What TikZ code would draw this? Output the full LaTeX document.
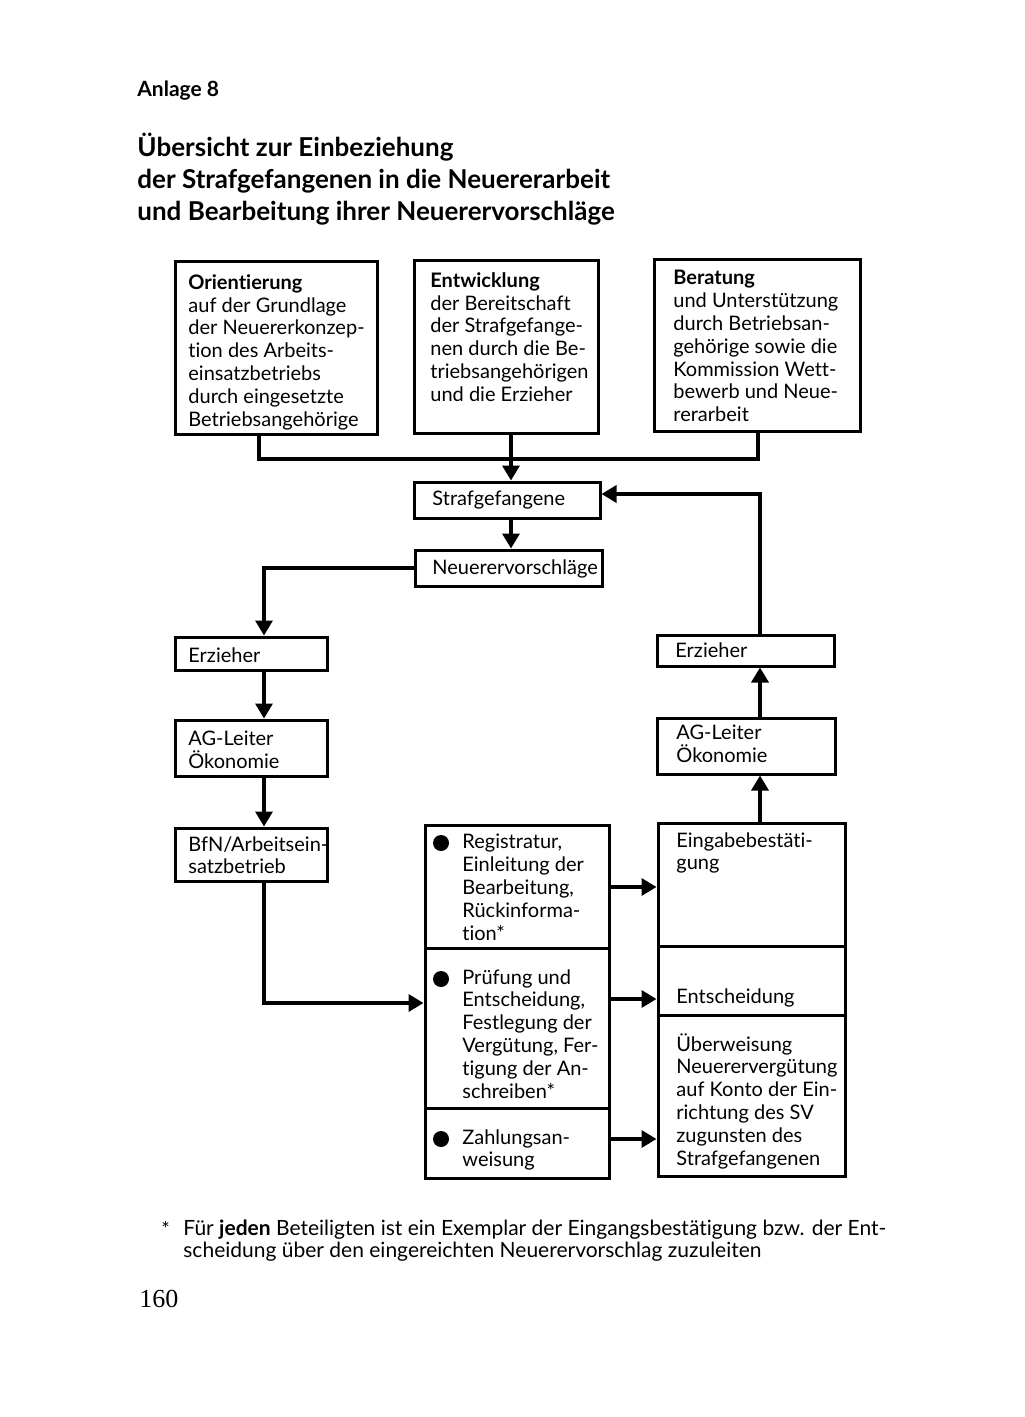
\documentclass[tikz,border=0pt]{standalone}
\usepackage{fontspec}
\setmainfont{Lato}[Ligatures={NoCommon,NoContextual}]
\newfontfamily\pagenumfont{Liberation Serif}
\usetikzlibrary{arrows.meta,calc}
\newcommand\bx[5]{\node[box, minimum width={(#4-#2)*0.5pt}, minimum height={(#5-#3)*0.5pt}] (#1) at ({(#2+#4)/2},{(#3+#5)/2}) {};}
\begin{document}
\begin{tikzpicture}[x=0.5pt,y=-0.5pt,
 box/.style={draw, line width=1.5pt, inner sep=0pt},
 conn/.style={line width=1.7pt},
 arr/.style={conn,-{Triangle[length=7.5pt,width=8.5pt]}},
 txt/.style={anchor=north west, inner sep=0pt, align=left, font=\fontsize{10}{11.4}\selectfont},
 lbl/.style={anchor=west, inner sep=0pt, font=\fontsize{10}{11.4}\selectfont},
 bul/.style={circle, fill, inner sep=0pt, minimum size=8pt}]
\useasboundingbox (0,0) rectangle (1024,1417);
% title
\node[anchor=north west, inner sep=0pt, font=\bfseries\fontsize{10.5}{12}\selectfont] (anl) at (137,81) {Anlage 8};
\node[anchor=north west, inner sep=0pt, align=left, font=\bfseries\fontsize{13}{16}\selectfont] (title) at (137,133)
 {Übersicht zur Einbeziehung\\der Strafgefangenen in die Neuererarbeit\\und Bearbeitung ihrer Neuerervorschläge};
% top boxes
\bx{b1}{175}{262}{377}{434}
\bx{b2}{414}{261}{598}{433}
\bx{b3}{654}{260}{860}{431}
\node[txt] (t1) at (188,274) {\textbf{Orientierung}\\auf der Grundlage\\der Neuererkonzep-\\tion des Arbeits-\\einsatzbetriebs\\durch eingesetzte\\Betriebsangehörige};
\node[txt] (t2) at (430,272) {\textbf{Entwicklung}\\der Bereitschaft\\der Strafgefange-\\nen durch die Be-\\triebsangehörigen\\und die Erzieher};
\node[txt] (t3) at (673,270) {\textbf{Beratung}\\und Unterstützung\\durch Betriebsan-\\gehörige sowie die\\Kommission Wett-\\bewerb und Neue-\\rerarbeit};
% center column
\bx{sg}{414}{482}{600}{518}
\node[lbl] (sgt) at (432,500) {Strafgefangene};
\bx{nv}{415}{550}{602}{586}
\node[lbl] (nvt) at (432,569) {Neuerervorschläge};
% left column
\bx{le}{175}{637}{327}{670}
\node[lbl] (let) at (188,655) {Erzieher};
\bx{la}{175}{720}{327}{776}
\node[txt] (lat) at (188,731) {AG-Leiter\\Ökonomie};
\bx{lb}{175}{828}{327}{881}
\node[txt] (lbt) at (188,836) {BfN/Arbeitsein-\\satzbetrieb};
% right column
\bx{re}{657}{635}{834}{666}
\node[lbl] (ret) at (675,650) {Erzieher};
\bx{ra}{657}{718}{835}{774}
\node[txt] (rat) at (676,725) {AG-Leiter\\Ökonomie};
% middle stacked box
\bx{m1}{425}{825}{609}{948}
\bx{m2}{425}{948}{609}{1108}
\bx{m3}{425}{1108}{609}{1178}
\node[bul] (p1) at (441,843) {};
\node[bul] (p2) at (441,979) {};
\node[bul] (p3) at (441,1139) {};
\node[txt] (m1t) at (462,834) {Registratur,\\Einleitung der\\Bearbeitung,\\Rückinforma-\\tion*};
\node[txt] (m2t) at (462,969) {Prüfung und\\Entscheidung,\\Festlegung der\\Vergütung, Fer-\\tigung der An-\\schreiben*};
\node[txt] (m3t) at (462,1129) {Zahlungsan-\\weisung};
% right stacked box
\bx{r1}{658}{823}{845}{946}
\bx{r2}{658}{946}{845}{1015}
\bx{r3}{658}{1015}{845}{1176}
\node[txt] (r1t) at (676,832) {Eingabebestäti-\\gung};
\node[lbl] (r2t) at (676,998) {Entscheidung};
\node[txt] (r3t) at (676,1033) {Überweisung\\Neuerervergütung\\auf Konto der Ein-\\richtung des SV\\zugunsten des\\Strafgefangenen};
% helper coordinates
\coordinate (j) at (511,459);
\coordinate (lc) at (264,0);
\coordinate (rc) at (760,494);
\coordinate (y1) at (0,887);
\coordinate (y2) at (0,999);
\coordinate (y3) at (0,1139);
\coordinate (y4) at (0,1003);
% connectors
\draw[conn] (b1.south -| 259,0) |- (j) -| (b3.south -| 758,0);
\draw[arr] (j) -- (sg.north -| j);
\draw[conn] (b2.south -| j) -- (j);
\draw[arr] (sg.south -| j) -- (nv.north -| j);
\draw[arr] (nv.west) -| (le.north -| lc);
\draw[arr] (le.south -| lc) -- (la.north -| lc);
\draw[arr] (la.south -| lc) -- (lb.north -| lc);
\draw[arr] (lb.south -| lc) |- (m2.west |- y4);
\draw[arr] (m1.east |- y1) -- (r1.west |- y1);
\draw[arr] (m2.east |- y2) -- (r2.west |- y2);
\draw[arr] (m3.east |- y3) -- (r3.west |- y3);
\draw[arr] (r1.north -| rc) -- (ra.south -| rc);
\draw[arr] (ra.north -| rc) -- (re.south -| rc);
\draw[arr] (re.north -| rc) |- (sg.east |- rc);
% footnote
\node[anchor=north west, inner sep=0pt, font=\fontsize{10}{11}\selectfont] (star) at (161,1221) {*};
\node[anchor=north west, inner sep=0pt, align=left, font=\fontsize{10.5}{11}\selectfont] (fn) at (183,1219)
 {Für \textbf{jeden} Beteiligten ist ein Exemplar der Eingangsbestätigung bzw. der Ent-\\scheidung über den eingereichten Neuerervorschlag zuzuleiten};
\node[anchor=north west, inner sep=0pt, font=\pagenumfont\fontsize{13}{15}\selectfont] (pg) at (139,1290) {160};
\end{tikzpicture}
\end{document}
